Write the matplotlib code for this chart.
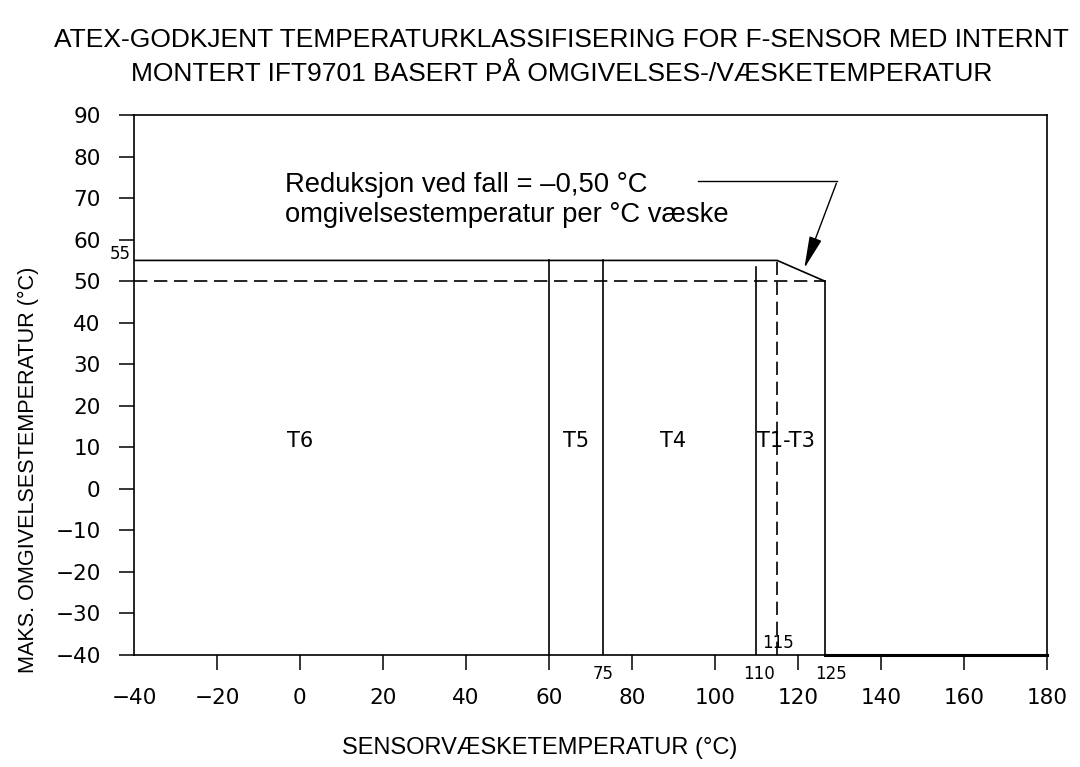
import numpy as np
import matplotlib.pyplot as plt

# temperature class boundaries (sensor liquid temperature, degC)
t_bounds = [60, 73, 110, 126.5]
t_115 = 115
amb_max = 55
amb_derated = 50
zones = ['T6', 'T5', 'T4', 'T1-T3']
zone_x = [0, 66.5, 90, 117]
zone_y = 11.5
xticks = np.arange(-40, 181, 20)
yticks = np.arange(-40, 91, 10)
minor_labels = ['75', '110', '125']
minor_x = [73, 110.5, 128]

title = ('ATEX-GODKJENT TEMPERATURKLASSIFISERING FOR F-SENSOR MED INTERNT\n'
         'MONTERT IFT9701 BASERT PÅ OMGIVELSES-/VÆSKETEMPERATUR')
note = 'Reduksjon ved fall = –0,50 °C\nomgivelsestemperatur per °C væske'

fig = plt.figure(figsize=(10.8, 7.67), dpi=100)
ax = fig.add_axes([0.124, 0.146, 0.8454, 0.704])
ax.set_xlim(-40, 180); ax.set_ylim(-40, 90)

lw = 1.2
# max ambient line with derating slope
ax.plot([-40, t_115, t_bounds[3]], [amb_max, amb_max, amb_derated], 'k-', lw=lw)
ax.plot([-40, t_bounds[3]], [amb_derated, amb_derated], 'k--', lw=lw, dashes=(8, 4))
ax.plot([t_bounds[0]] * 2, [-40, amb_max], 'k-', lw=lw)
ax.plot([t_bounds[1]] * 2, [-40, amb_max], 'k-', lw=lw)
ax.plot([t_bounds[2]] * 2, [-40, 53.3], 'k-', lw=lw)
ax.plot([t_115] * 2, [-40, amb_max], 'k--', lw=lw, dashes=(8, 4))
ax.plot([t_bounds[3]] * 2, [-40, amb_derated], 'k-', lw=lw)
ax.plot([t_bounds[3], 180], [-40, -40], 'k-', lw=2.2, clip_on=False)

for z, x in zip(zones, zone_x):
    ax.text(x, zone_y, z, ha='center', va='center', fontsize=15)

ax.text(-40.8, 56.5, '55', ha='right', va='center', fontsize=12)
ax.text(t_115 + 0.3, -37, '115', ha='center', va='center', fontsize=12)
for s, x in zip(minor_labels, minor_x):
    ax.text(x, -44.5, s, ha='center', va='center', fontsize=12, clip_on=False)

ax.text(-3.5, 69.6, note, ha='left', va='center', fontsize=19.7, linespacing=1.2,
        family='Liberation Sans')
ax.plot([96, 129.5], [74.2, 74.2], 'k-', lw=1)
ax.annotate('', xy=(121.3, 52.5), xytext=(129.5, 74.2),
            arrowprops=dict(arrowstyle='-|>,head_width=0.18,head_length=0.9',
                            color='k', lw=1, mutation_scale=22))

for sp in ax.spines.values():
    sp.set_linewidth(lw)
ax.set_xticks(xticks); ax.set_yticks(yticks)
ax.set_xticklabels([str(v).replace('-', '−') for v in xticks])
ax.set_yticklabels([str(v).replace('-', '−') for v in yticks])
ax.tick_params(direction='out', length=11, width=1.1, labelsize=15.5, pad=13)
ax.xaxis.get_major_ticks()[0].tick1line.set_visible(False)

fig.text(0.52, 0.926, title, ha='center', va='center', fontsize=19,
         family='Liberation Sans', linespacing=1.55)
fig.text(0.5, 0.025, 'SENSORVÆSKETEMPERATUR (°C)', ha='center', va='center',
         fontsize=17, family='Liberation Sans')
fig.text(0.026, 0.387, 'MAKS. OMGIVELSESTEMPERATUR (°C)', ha='center', va='center',
         rotation=90, fontsize=15.6, family='Liberation Sans')

fig.savefig('out.png', dpi=100)
